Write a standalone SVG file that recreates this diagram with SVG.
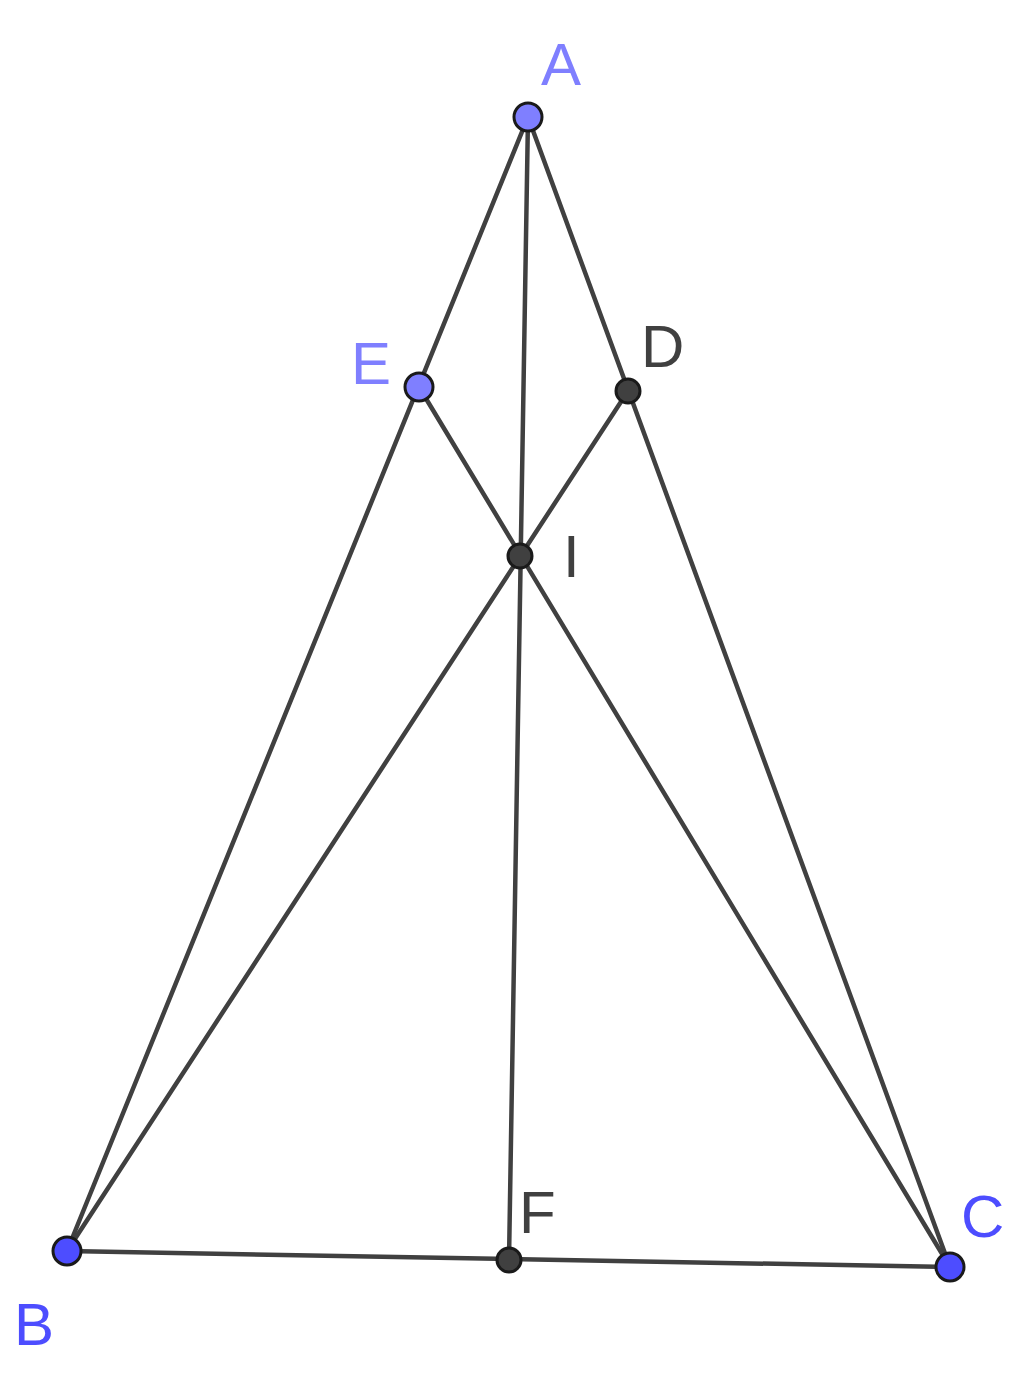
<svg xmlns="http://www.w3.org/2000/svg" width="1024" height="1397" viewBox="0 0 1024 1397">
<style>
.ln{stroke:#404040;stroke-width:4.5;stroke-linecap:round;fill:none}
.pt{stroke:#1a1a1a;stroke-width:3}
.lb{font-family:"Liberation Sans",Arial,sans-serif;font-size:60px}
.free{fill:#7f7fff}
.base{fill:#4d4dff}
.dep{fill:#404040}
</style>
<rect width="1024" height="1397" fill="#ffffff"/>
<g id="connectors">
<line class="ln" x1="528" y1="117" x2="67" y2="1251"/>
<line class="ln" x1="528" y1="117" x2="950" y2="1267"/>
<line class="ln" x1="67" y1="1251" x2="950" y2="1267"/>
<line class="ln" x1="528" y1="117" x2="509" y2="1260"/>
<line class="ln" x1="67" y1="1251" x2="628" y2="391"/>
<line class="ln" x1="950" y1="1267" x2="419" y2="387"/>
</g>
<g id="A"><circle class="pt free" cx="528" cy="117" r="14"/><text class="lb free" x="541" y="85">A</text></g>
<g id="E"><circle class="pt free" cx="419" cy="387" r="14"/><text class="lb free" x="351" y="384">E</text></g>
<g id="D"><circle class="pt dep" cx="628" cy="391" r="12"/><text class="lb dep" x="641" y="367">D</text></g>
<g id="I"><circle class="pt dep" cx="520" cy="556" r="12"/><text class="lb dep" x="563" y="577">I</text></g>
<g id="B"><circle class="pt base" cx="67" cy="1251" r="14"/><text class="lb base" x="14" y="1345">B</text></g>
<g id="F"><circle class="pt dep" cx="509" cy="1260" r="12"/><text class="lb dep" x="519" y="1233">F</text></g>
<g id="C"><circle class="pt base" cx="950" cy="1267" r="14"/><text class="lb base" x="961" y="1237">C</text></g>
</svg>
